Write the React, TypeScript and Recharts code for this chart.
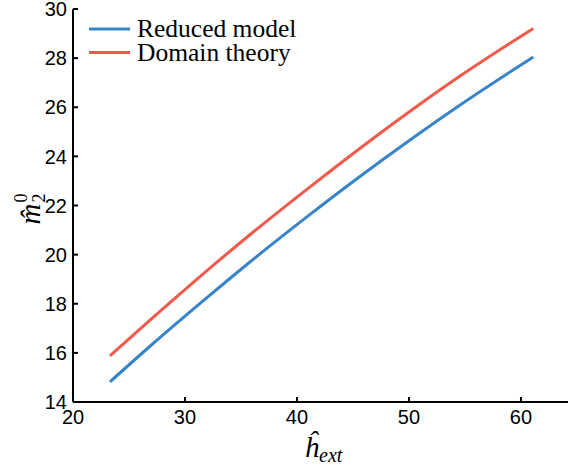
import React from 'react';
import { LineChart, Line, XAxis, YAxis, Legend, Label } from 'recharts';

// Field values along the curves
const hExt = [23.3, 26.9, 32.2, 35.8, 41.2, 45.2, 50.5, 54.5, 61.1];
const reducedModel = [14.82, 16.28, 18.34, 19.7, 21.65, 23.04, 24.8, 26.07, 28.05];
const domainTheory = [15.88, 17.34, 19.44, 20.81, 22.77, 24.18, 25.97, 27.25, 29.21];

const xTicks = [20, 30, 40, 50, 60];
const yTicks = [14, 16, 18, 20, 22, 24, 26, 28, 30];

const seriesNames = ['Reduced model', 'Domain theory'];
const seriesColors = ['#3784c8', '#f2594b'];

const data = hExt.map((h, i) => ({
  h,
  reduced: reducedModel[i],
  domain: domainTheory[i],
}));

const SANS = 'Liberation Sans, Arial, Helvetica, sans-serif';
const SERIF = 'Liberation Serif, Times New Roman, DejaVu Serif, serif';

const XTick = (props: any) => {
  const { x, y, payload } = props;
  return (
    <g>
      <line x1={x} x2={x} y1={y} y2={y - 5} stroke="#000" strokeWidth={2} />
      <text x={x} y={y + 22} textAnchor="middle" style={{ fontSize: 20, fontFamily: SANS }} fill="#000">
        {payload.value}
      </text>
    </g>
  );
};

const YTick = (props: any) => {
  const { x, y, payload } = props;
  return (
    <g>
      <line x1={x} x2={x + 5} y1={y} y2={y} stroke="#000" strokeWidth={2} />
      <text x={x - 6} y={y} dy="0.36em" textAnchor="end" style={{ fontSize: 20, fontFamily: SANS }} fill="#000">
        {payload.value}
      </text>
    </g>
  );
};

const XTitle = (props: any) => {
  const { viewBox } = props;
  const cx = viewBox.x + viewBox.width / 2 + 3;
  return (
    <text
      x={cx}
      y={viewBox.y + 55}
      textAnchor="middle"
      style={{ fontFamily: SERIF, fontStyle: 'italic' }}
      fill="#000"
    >
      <tspan style={{ fontSize: 29 }}>ĥ</tspan>
      <tspan style={{ fontSize: 20 }} dy={5}>ext</tspan>
    </text>
  );
};

const YTitle = (props: any) => {
  const { viewBox } = props;
  const cy = viewBox.y + viewBox.height / 2;
  return (
    <g transform={`translate(40, ${cy}) rotate(-90)`} style={{ fontFamily: SERIF }} fill="#000">
      <text x={-19} y={0} style={{ fontSize: 29, fontStyle: 'italic' }}>m̂</text>
      <text x={3} y={-13} style={{ fontSize: 18 }}>0</text>
      <text x={3} y={5} style={{ fontSize: 18 }}>2</text>
    </g>
  );
};

const LegendBox = (props: any) => {
  const payload = [...(props.payload || [])].sort(
    (a: any, b: any) => seriesNames.indexOf(a.value) - seriesNames.indexOf(b.value)
  );
  return (
    <svg width={320} height={72} style={{ display: 'block' }}>
      {payload.map((entry: any, i: number) => (
        <g key={entry.value}>
          <line x1={89} x2={130} y1={29 + i * 23.5} y2={29 + i * 23.5} stroke={entry.color} strokeWidth={3} />
          <text x={137} y={37 + i * 23.5} style={{ fontSize: 25.5, fontFamily: SERIF }} fill="#000">
            {entry.value}
          </text>
        </g>
      ))}
    </svg>
  );
};

export default function App() {
  return (
    <div style={{ position: 'absolute', left: 0, top: 0, background: '#fff' }}>
      <LineChart width={568} height={466} data={data} margin={{ top: 9, right: 0, left: 0, bottom: 0 }}>
        <XAxis
          dataKey="h"
          type="number"
          domain={[20, 64.2]}
          ticks={xTicks}
          allowDataOverflow
          height={64}
          tickSize={0}
          tickMargin={0}
          tick={<XTick />}
          axisLine={{ stroke: '#000', strokeWidth: 2 }}
          interval={0}
        >
          <Label content={<XTitle />} />
        </XAxis>
        <YAxis
          type="number"
          domain={[14, 30]}
          ticks={yTicks}
          width={73}
          tickSize={0}
          tickMargin={0}
          tick={<YTick />}
          axisLine={{ stroke: '#000', strokeWidth: 2 }}
          interval={0}
        >
          <Label content={<YTitle />} />
        </YAxis>
        <Legend
          layout="vertical"
          align="center"
          verticalAlign="middle"
          wrapperStyle={{ left: 0, top: 0, width: 320 }}
          content={<LegendBox />}
        />
        <Line
          type="monotone"
          dataKey="reduced"
          name={seriesNames[0]}
          stroke={seriesColors[0]}
          strokeWidth={3}
          dot={false}
          isAnimationActive={false}
        />
        <Line
          type="monotone"
          dataKey="domain"
          name={seriesNames[1]}
          stroke={seriesColors[1]}
          strokeWidth={3}
          dot={false}
          isAnimationActive={false}
        />
      </LineChart>
    </div>
  );
}
